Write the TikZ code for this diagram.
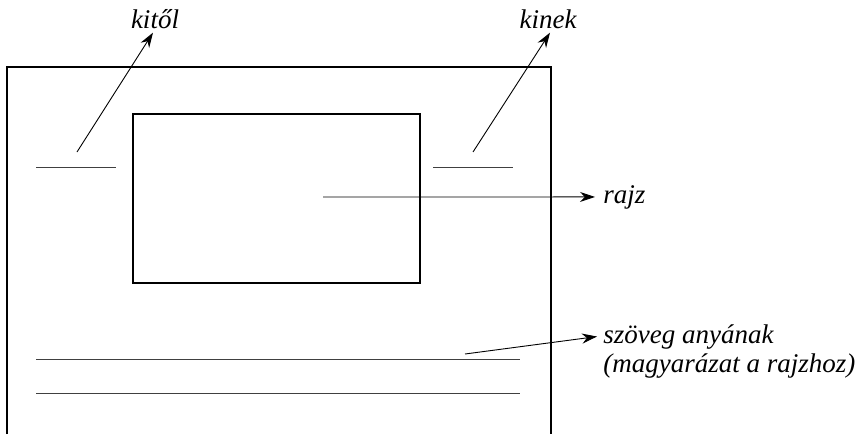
\documentclass[tikz,border=0pt]{standalone}
\usepackage{fontspec}
\setmainfont{Liberation Serif}
\usepackage{tikz}
\usetikzlibrary{arrows.meta, positioning, calc}

\tikzset{
    lbl/.style={font=\fontsize{13.5pt}{16pt}\selectfont\itshape, inner sep=0pt},
    pointer/.style={-{Stealth[length=7.5pt, width=5pt]}, line width=0.45pt},
    frame/.style={line width=0.6pt},
    textline/.style={line width=0.45pt, black!75}
}

\begin{document}
\begin{tikzpicture}[x=0.5pt, y=-0.5pt]
        \useasboundingbox (0,0) rectangle (867,434);

        \draw[frame] (7,434) -- (7,67) -- (551,67) -- (551,434);
        \draw[frame] (133,114) rectangle (420,283);

        \draw[textline] (36,167) -- (116,167);
        \draw[textline] (433,167) -- (513,167);
        \draw[textline] (36,359) -- (520,359);
        \draw[textline] (36,393) -- (520,393);

        \node[lbl, anchor=base] (kitol) at (155,28) {kitől};
        \node[lbl, anchor=base] (kinek) at (548,28) {kinek};
        \node[lbl, anchor=base west] (rajz) at (603,203) {rajz};
        \node[lbl, anchor=base west] (szoveg) at (603,343) {szöveg anyának};
        \node[lbl, anchor=base west] (magyar) at (603,372) {(magyarázat a rajzhoz)};

        \coordinate (kitolFrom) at (77,152);
        \coordinate (kinekFrom) at (473,152);
        \coordinate (rajzFrom) at (323,197);
        \coordinate (szovegFrom) at (465,354);

        \path (kitolFrom) edge[pointer] ($(kitol.south)+(-2,4)$)
              (kinekFrom) edge[pointer] ($(kinek.south)+(2,4)$)
              (rajzFrom) edge[pointer] ($(rajz.west)+(-8,0)$)
              (szovegFrom) edge[pointer] ($(szoveg.west)+(-6,0)$);
\end{tikzpicture}
\end{document}
